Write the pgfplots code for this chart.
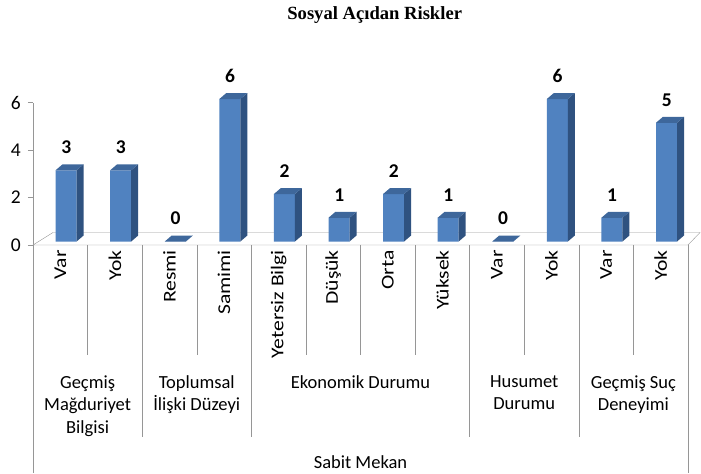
\documentclass[border=0pt]{standalone}
\usepackage{fontspec}
\setmainfont{Carlito}
\newfontfamily\titlefont{Liberation Serif}
\usepackage{graphicx}
\usepackage{pgfplots}
\usepackage{pgfplotstable}
\pgfplotsset{compat=1.18}
\definecolor{front}{RGB}{80,130,192}
\definecolor{side}{RGB}{47,82,128}
\definecolor{topc}{RGB}{62,103,155}
\definecolor{sep}{RGB}{150,150,150}
\newdimen\barh
\newdimen\barhb
\pgfdeclareplotmark{empty}{}
\pgfplotstableread{
x v
0 3
1 3
2 0
3 6
4 2
5 1
6 2
7 1
8 0
9 6
10 1
11 5
}\datatable
\newcommand\lblfont{\fontsize{18.5bp}{22.5bp}\selectfont}
\newcommand\numfont{\fontsize{19.5bp}{22.5bp}\selectfont}
\newcommand\sx[1]{\scalebox{1.2}[1]{#1}}
\begin{document}
\begin{tikzpicture}
\useasboundingbox (-33bp,-229bp) rectangle (668bp,245bp);
\begin{axis}[
  scale only axis, width=655bp, height=142.5bp,
  anchor=south west, at={(0,0)},
  xmin=-0.5, xmax=11.5, ymin=0, ymax=6,
  clip=false,
  axis lines*=left,
  x axis line style={draw=none},
  y axis line style={draw=sep, -},
  ytick={0,2,4,6},
  xtick={0,...,11},
  xticklabels={\sx{Var},\sx{Yok},\sx{Resmi},\sx{Samimi},\sx{Yetersiz Bilgi},\sx{Düşük},\sx{Orta},\sx{Yüksek},\sx{Var},\sx{Yok},\sx{Var},\sx{Yok}},
  x tick style={draw=none},
  y tick style={draw=sep},
  tick align=outside,
  major tick length=5bp,
  /pgf/number format/assume math mode=true,
  xticklabel style={font=\fontsize{18bp}{22bp}\selectfont, text=black, rotate=90, anchor=east, inner sep=0pt},
  yticklabel style={font=\numfont, text=black, anchor=east, inner sep=0pt, xshift=-7bp},
]
% floor
\draw[sep, fill=white] (axis cs:-0.5,0) -- (axis cs:11.5,0) -- ([shift={(12bp,12.5bp)}]axis cs:11.5,0) -- ([shift={(20bp,12.5bp)}]axis cs:-0.5,0) -- cycle;
% separators
\draw[sep] (axis cs:-0.5,0) -- ([yshift=-228bp]axis cs:-0.5,0);
\draw[sep] (axis cs:11.5,0) -- ([yshift=-228bp]axis cs:11.5,0);
\draw[sep] (axis cs:0.5,0) -- ([yshift=-110bp]axis cs:0.5,0);
\draw[sep] (axis cs:2.5,0) -- ([yshift=-110bp]axis cs:2.5,0);
\draw[sep] (axis cs:4.5,0) -- ([yshift=-110bp]axis cs:4.5,0);
\draw[sep] (axis cs:5.5,0) -- ([yshift=-110bp]axis cs:5.5,0);
\draw[sep] (axis cs:6.5,0) -- ([yshift=-110bp]axis cs:6.5,0);
\draw[sep] (axis cs:8.5,0) -- ([yshift=-110bp]axis cs:8.5,0);
\draw[sep] (axis cs:10.5,0) -- ([yshift=-110bp]axis cs:10.5,0);
\draw[sep] (axis cs:1.5,0) -- ([yshift=-192bp]axis cs:1.5,0);
\draw[sep] (axis cs:3.5,0) -- ([yshift=-192bp]axis cs:3.5,0);
\draw[sep] (axis cs:7.5,0) -- ([yshift=-192bp]axis cs:7.5,0);
\draw[sep] (axis cs:9.5,0) -- ([yshift=-192bp]axis cs:9.5,0);
% front faces
\addplot[ybar, bar width=21bp, bar shift=5.8bp, fill=front, draw=none, yshift=3.5bp,
  nodes near coords,
  nodes near coords style={font=\bfseries\numfont, text=black, anchor=center, yshift=23bp, xshift=6bp}]
  table[x=x,y=v]{\datatable};
% side and top faces
\addplot[scatter, only marks, mark=empty, yshift=3.5bp,
  point meta=explicit symbolic,
  scatter/@pre marker code/.code={%
    \barh=23.75bp \multiply\barh by \pgfplotspointmeta\relax
    \barhb=6bp \advance\barhb by -\barh
    \pgfsetfillcolor{side}%
    \pgfpathmoveto{\pgfqpoint{16.3bp}{0bp}}%
    \pgfpathlineto{\pgfqpoint{23.3bp}{6bp}}%
    \pgfpathlineto{\pgfqpoint{23.3bp}{\barhb}}%
    \pgfpathlineto{\pgfqpoint{16.3bp}{-\barh}}%
    \pgfpathclose\pgfusepath{fill}%
    \pgfsetfillcolor{topc}%
    \pgfpathmoveto{\pgfqpoint{-4.7bp}{0bp}}%
    \pgfpathlineto{\pgfqpoint{16.3bp}{0bp}}%
    \pgfpathlineto{\pgfqpoint{23.3bp}{6bp}}%
    \pgfpathlineto{\pgfqpoint{2.3bp}{6bp}}%
    \pgfpathclose\pgfusepath{fill}%
  },
  scatter/@post marker code/.code={}]
  table[x=x,y=v,meta=v]{\datatable};
% group labels
\node[anchor=north, align=center, font=\lblfont] at ([yshift=-127bp]axis cs:0.5,0) {Geçmiş\\Mağduriyet\\Bilgisi};
\node[anchor=north, align=center, font=\lblfont] at ([yshift=-127bp]axis cs:2.5,0) {Toplumsal\\İlişki Düzeyi};
\node[anchor=north, align=center, font=\lblfont] at ([yshift=-127bp]axis cs:5.5,0) {Ekonomik Durumu};
\node[anchor=north, align=center, font=\lblfont] at ([yshift=-127bp]axis cs:8.5,0) {Husumet\\Durumu};
\node[anchor=north, align=center, font=\lblfont] at ([yshift=-127bp]axis cs:10.5,0) {Geçmiş Suç\\Deneyimi};
\node[font=\lblfont] at ([yshift=-217bp]axis cs:5.5,0) {Sabit Mekan};
\node[font=\titlefont\bfseries\fontsize{18.6bp}{22bp}\selectfont] at ([yshift=230bp]axis cs:5.76,0) {Sosyal Açıdan Riskler};
\end{axis}
\end{tikzpicture}
\end{document}
